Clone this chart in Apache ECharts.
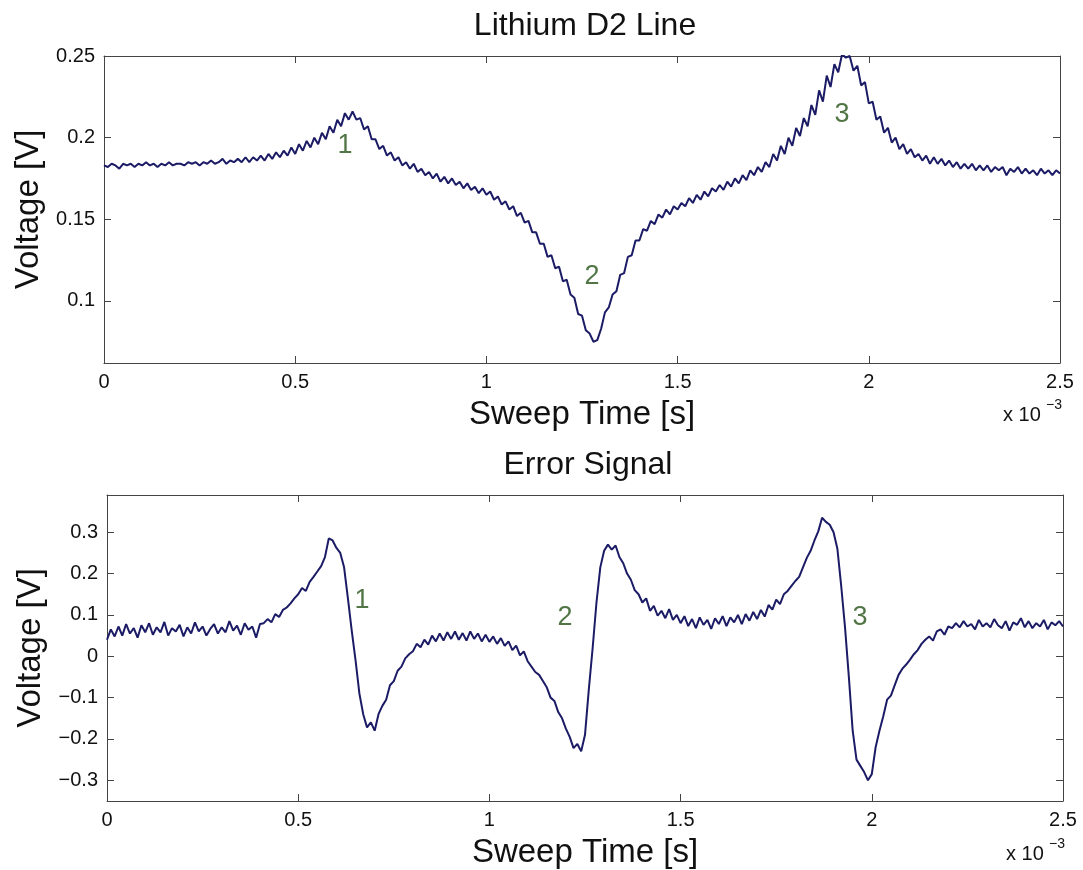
<!DOCTYPE html>
<html>
<head>
<meta charset="utf-8">
<script src="https://cdn.jsdelivr.net/npm/echarts@6/dist/echarts.min.js"></script>
<style>
  html, body { margin: 0; padding: 0; background: #fff; }
</style>
</head>
<body>
<div id="main" style="width: 1083px;height:870px;"></div>
<script type="text/javascript">
    // sampling step of both traces, in units of 1e-3 s
    var step = 0.01;

    // Lithium D2 Line, voltage [V], one value per step
    var d2Line = [
        .183, .182, .184, .183, .181, .184, .183, .184, .182, .184,
        .183, .185, .183, .184, .182, .184, .183, .185, .183, .184,
        .184, .183, .185, .184, .185, .183, .185, .184, .186, .184,
        .185, .187, .184, .186, .185, .187, .185, .188, .185, .188,
        .186, .189, .186, .190, .187, .191, .188, .192, .189, .194,
        .190, .196, .192, .198, .194, .200, .196, .203, .199, .207,
        .203, .211, .207, .215, .211, .216, .211, .212, .205, .207,
        .199, .199, .193, .195, .189, .191, .186, .188, .183, .185,
        .181, .184, .179, .181, .177, .179, .175, .178, .173, .176,
        .172, .175, .171, .173, .169, .172, .168, .170, .166, .169,
        .165, .167, .162, .164, .159, .161, .156, .158, .152, .154,
        .148, .149, .142, .142, .135, .135, .127, .128, .120, .121,
        .112, .113, .104, .102, .092, .091, .082, .080, .075, .076,
        .083, .093, .096, .104, .106, .116, .117, .127, .128, .137,
        .137, .144, .143, .149, .147, .153, .151, .156, .153, .158,
        .156, .160, .158, .163, .160, .165, .162, .167, .164, .169,
        .167, .171, .168, .173, .170, .175, .172, .177, .174, .180,
        .177, .182, .179, .185, .182, .190, .186, .195, .190, .200,
        .195, .206, .201, .212, .207, .220, .214, .229, .222, .238,
        .231, .245, .240, .251, .249, .250, .241, .244, .232, .234,
        .221, .222, .211, .213, .203, .206, .197, .200, .193, .196,
        .190, .193, .188, .190, .186, .189, .184, .188, .184, .187,
        .183, .186, .182, .185, .181, .184, .181, .184, .180, .183,
        .180, .183, .179, .182, .180, .182, .177, .181, .179, .182,
        .178, .181, .178, .180, .177, .181, .178, .180, .177, .180,
        .178
    ];

    // Error Signal, voltage [V], one value per step
    var errSignal = [
        .040, .065, .048, .072, .050, .078, .055, .068, .045, .075,
        .058, .080, .052, .070, .058, .083, .050, .068, .060, .076,
        .048, .070, .055, .082, .060, .072, .050, .066, .078, .055,
        .070, .058, .085, .062, .074, .052, .080, .064, .072, .045,
        .078, .080, .090, .082, .102, .095, .112, .118, .128, .140,
        .150, .165, .158, .180, .192, .205, .218, .240, .285, .280,
        .262, .250, .215, .140, .062, -.010, -.090, -.140, -.172, -.160,
        -.180, -.140, -.120, -.105, -.070, -.060, -.035, -.025, -.005, .005,
        .012, .030, .022, .040, .028, .050, .036, .055, .038, .058,
        .042, .060, .040, .056, .038, .060, .042, .055, .036, .052,
        .035, .048, .030, .044, .025, .036, .015, .026, .002, .012,
        -.012, -.025, -.038, -.045, -.060, -.075, -.100, -.108, -.135, -.150,
        -.175, -.195, -.222, -.212, -.230, -.190, -.080, .020, .130, .215,
        .255, .270, .258, .268, .240, .225, .200, .185, .160, .150,
        .130, .140, .110, .122, .098, .110, .092, .114, .088, .100,
        .080, .097, .073, .090, .068, .094, .076, .088, .066, .092,
        .078, .097, .073, .094, .082, .100, .078, .102, .086, .107,
        .090, .112, .096, .124, .113, .137, .126, .150, .158, .170,
        .182, .192, .215, .238, .255, .280, .302, .335, .325, .318,
        .300, .260, .170, .070, -.050, -.180, -.250, -.265, -.280, -.300,
        -.285, -.220, -.180, -.145, -.105, -.095, -.070, -.045, -.030, -.020,
        -.008, .005, .015, .030, .040, .048, .038, .060, .065, .052,
        .072, .068, .080, .070, .085, .072, .078, .065, .088, .072,
        .080, .070, .090, .075, .068, .085, .062, .082, .076, .092,
        .070, .085, .068, .080, .072, .088, .065, .082, .075, .085,
        .072
    ];

    // tick labels
    var timeTicks = [0, 0.5, 1, 1.5, 2, 2.5];
    var d2Ticks = [0.1, 0.15, 0.2, 0.25];
    var errTicks = [-0.3, -0.2, -0.1, 0, 0.1, 0.2, 0.3];

    // numbered resonance labels: name, x [1e-3 s], y [V]
    var peakNames = ['1', '2', '3'];
    var d2PeakX = [0.63, 1.276, 1.93];
    var d2PeakY = [0.195, 0.115, 0.214];
    var errPeakX = [0.667, 1.198, 1.969];
    var errPeakY = [0.134, 0.093, 0.093];

    var lineColor = '#1b1b66';
    var labelGreen = '#265216';
    var fontName = 'Liberation Sans';

    function pairs(vals) {
        return vals.map(function (v, i) { return [+(i * step).toFixed(2), v]; });
    }
    function peakData(xs, ys) {
        return peakNames.map(function (n, i) { return { name: n, value: [xs[i], ys[i]] }; });
    }
    function minusFmt(v) {
        return v < 0 ? '\u2212' + (-v) : String(v);
    }

    function xAxisPair(grid) {
        var common = {
            gridIndex: grid, type: 'value', min: 0, max: 2.5, interval: 0.5,
            axisLine: { show: true, onZero: false, lineStyle: { color: '#444', width: 1 } },
            axisTick: { show: true, inside: true, length: 7, lineStyle: { color: '#444' } },
            splitLine: { show: false }
        };
        return [
            Object.assign({}, common, {
                position: 'bottom',
                axisLabel: { color: '#111', fontSize: 20, fontFamily: fontName, margin: 9,
                    customValues: timeTicks },
                name: 'Sweep Time [s]', nameLocation: 'middle', nameGap: 35,
                nameTextStyle: { color: '#111', fontSize: 33, fontFamily: fontName }
            }),
            Object.assign({}, common, { position: 'top', axisLabel: { show: false } })
        ];
    }

    function yAxisPair(grid, min, max, ticks, fmt) {
        var common = {
            gridIndex: grid, type: 'value', min: min, max: max,
            axisLine: { show: true, onZero: false, lineStyle: { color: '#444', width: 1 } },
            axisTick: { show: true, inside: true, length: 7, customValues: ticks, lineStyle: { color: '#444' } },
            splitLine: { show: false }
        };
        return [
            Object.assign({}, common, {
                position: 'left',
                axisLabel: { color: '#111', fontSize: 20, fontFamily: fontName, margin: 9,
                    customValues: ticks, formatter: fmt },
                name: 'Voltage [V]', nameLocation: 'middle', nameGap: 53,
                nameTextStyle: { color: '#111', fontSize: 33, fontFamily: fontName }
            }),
            Object.assign({}, common, { position: 'right', axisLabel: { show: false } })
        ];
    }

    var myChart = echarts.init(document.getElementById('main'));

    var option = {
        animation: false,
        backgroundColor: '#fff',
        title: [
            { text: 'Lithium D2 Line', left: 580, textAlign: 'center', top: 5,
              textStyle: { fontSize: 32, fontWeight: 'normal', color: '#111', fontFamily: fontName } },
            { text: 'Error Signal', left: 583, textAlign: 'center', top: 444,
              textStyle: { fontSize: 32, fontWeight: 'normal', color: '#111', fontFamily: fontName } }
        ],
        grid: [
            { left: 104, top: 56, right: 23, height: 307 },
            { left: 107, top: 495, right: 20, height: 307 }
        ],
        xAxis: xAxisPair(0).concat(xAxisPair(1)),
        yAxis: yAxisPair(0, 0.062, 0.25, d2Ticks, String)
            .concat(yAxisPair(1, -0.35, 0.39, errTicks, minusFmt)),
        series: [
            {
                name: 'Lithium D2 Line', type: 'line', xAxisIndex: 0, yAxisIndex: 0,
                data: pairs(d2Line), showSymbol: false, clip: true,
                lineStyle: { color: lineColor, width: 2 }
            },
            {
                name: 'Error Signal', type: 'line', xAxisIndex: 2, yAxisIndex: 2,
                data: pairs(errSignal), showSymbol: false, clip: true,
                lineStyle: { color: lineColor, width: 2 }
            },
            {
                type: 'scatter', xAxisIndex: 0, yAxisIndex: 0, symbolSize: 0,
                data: peakData(d2PeakX, d2PeakY),
                label: { show: true, position: 'inside', formatter: '{b}', color: labelGreen,
                    fontSize: 27, fontFamily: fontName }
            },
            {
                type: 'scatter', xAxisIndex: 2, yAxisIndex: 2, symbolSize: 0,
                data: peakData(errPeakX, errPeakY),
                label: { show: true, position: 'inside', formatter: '{b}', color: labelGreen,
                    fontSize: 27, fontFamily: fontName }
            }
        ],
        graphic: [
            { type: 'text', left: 1003, top: 405, style: { text: 'x 10', fontSize: 20, fontFamily: fontName, fill: '#111' } },
            { type: 'text', left: 1046, top: 398, style: { text: '\u22123', fontSize: 14, fontFamily: fontName, fill: '#111' } },
            { type: 'text', left: 1006, top: 844, style: { text: 'x 10', fontSize: 20, fontFamily: fontName, fill: '#111' } },
            { type: 'text', left: 1049, top: 837, style: { text: '\u22123', fontSize: 14, fontFamily: fontName, fill: '#111' } }
        ]
    };
    myChart.setOption(option);
</script>
</body>
</html>
